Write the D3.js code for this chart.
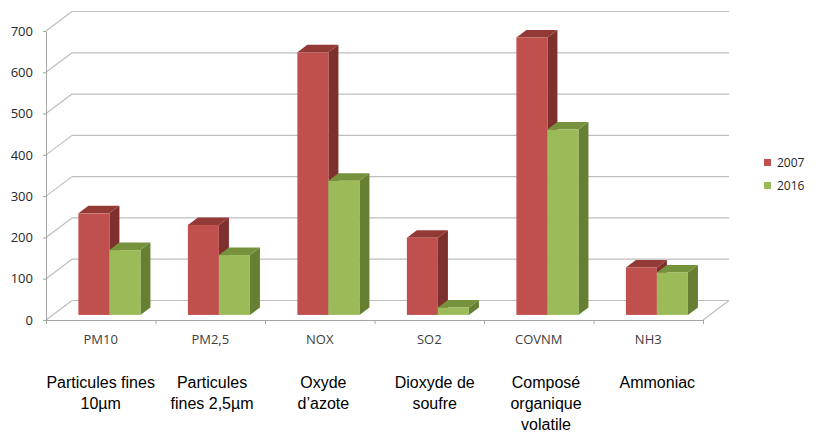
<!DOCTYPE html>
<html>
<head>
<meta charset="utf-8">
<script src="https://cdn.jsdelivr.net/npm/d3@7"></script>
<style>
  html, body { margin: 0; padding: 0; background: #fff; }
  svg { display: block; }
</style>
</head>
<body>
<svg id="chart" width="817" height="432"></svg>
<script>
// Emission data (kt), 2007 vs 2016
const codes = ["PM10", "PM2,5", "NOX", "SO2", "COVNM", "NH3"];
const descriptions = [
  ["Particules fines", "10µm"],
  ["Particules", "fines 2,5µm"],
  ["Oxyde", "d\u2019azote"],
  ["Dioxyde de", "soufre"],
  ["Composé", "organique", "volatile"],
  ["Ammoniac"]
];
const years = ["2007", "2016"];
const values2007 = [246, 218, 636, 187, 672, 115];
const values2016 = [157, 145, 325, 18, 449, 103];
const yTicks = [0, 100, 200, 300, 400, 500, 600, 700];

const series = [values2007, values2016];
const faceColors = [
  { front: "#C0504D", top: "#933A37", side: "#7E302E" },
  { front: "#9BBB59", top: "#76923C", side: "#667F33" }
];

const svg = d3.select("#chart");

// Plot frame: front floor edge, and oblique offset to the back wall
const x0 = 46, x1 = 703;
const depthX = 26, depthY = -19.5;
const barFront = 0.26, barBack = 0.645;

const y = d3.scaleLinear().domain([0, 700]).range([320, 31]);
const xBand = d3.scaleBand().domain(codes).range([x0, x1]);
const xSeries = d3.scaleBand().domain(years)
  .range([0, xBand.bandwidth()]).paddingInner(0).paddingOuter(0.765).align(0.54);
const xText = d3.scaleBand().domain(codes).range([45, 713]);

const proj = (px, py, d) => [px + d * depthX, py + d * depthY];

const gridColor = "#BDBDBD";

// Back wall and left wall gridlines
const grid = svg.append("g");
yTicks.forEach(v => {
  const [bx0, by] = proj(x0, y(v), 1);
  const [bx1] = proj(x1, y(v), 1);
  grid.append("line").attr("x1", bx0).attr("x2", bx1).attr("y1", by).attr("y2", by)
    .attr("stroke", gridColor).attr("stroke-width", 1.2);
  grid.append("line").attr("x1", x0).attr("y1", y(v)).attr("x2", bx0).attr("y2", by)
    .attr("stroke", gridColor).attr("stroke-width", 1.2);
});
// Right edge of the floor
{
  const [bx, by] = proj(x1, y(0), 1);
  grid.append("line").attr("x1", x1).attr("y1", y(0)).attr("x2", bx).attr("y2", by)
    .attr("stroke", gridColor).attr("stroke-width", 1.2);
}

// Y axis
const yAxis = svg.append("g").attr("transform", `translate(${x0},0)`)
  .call(d3.axisLeft(y).tickValues(yTicks).tickSizeInner(3).tickSizeOuter(0).tickPadding(10));
yAxis.select(".domain").attr("stroke", "#A6A6A6");
yAxis.selectAll(".tick line").attr("stroke", "#A6A6A6");
yAxis.selectAll("text").attr("font-family", "'Open Sans', sans-serif")
  .attr("font-size", 13).attr("fill", "#262626");

// X axis: line with ticks between categories
const xBound = d3.scaleLinear().domain([0, codes.length]).range([x0, x1]);
const xAxis = svg.append("g").attr("transform", `translate(0,${y(0)})`)
  .call(d3.axisBottom(xBound).tickValues(d3.range(codes.length + 1))
    .tickFormat("").tickSizeInner(4).tickSizeOuter(0));
xAxis.select(".domain").attr("stroke", "#A6A6A6");
xAxis.selectAll(".tick line").attr("stroke", "#A6A6A6");

// Category codes
svg.append("g").selectAll("text").data(codes).join("text")
  .attr("x", d => xBand(d) + xBand.bandwidth() / 2)
  .attr("y", 344)
  .attr("text-anchor", "middle")
  .attr("font-family", "'Open Sans', sans-serif")
  .attr("font-size", 13)
  .attr("fill", "#404040")
  .text(d => d);

// Descriptive labels under the codes
const desc = svg.append("g").selectAll("text").data(codes).join("text")
  .attr("text-anchor", "middle")
  .attr("font-family", "'Liberation Sans', Arial, sans-serif")
  .attr("font-size", 16)
  .attr("fill", "#000");
desc.each(function (d, i) {
  const t = d3.select(this);
  descriptions[i].forEach((line, k) => {
    t.append("tspan")
      .attr("x", xText(d) + xText.bandwidth() / 2)
      .attr("y", 388 + k * 21)
      .text(line);
  });
});

// 3D columns
const bars = svg.append("g");
codes.forEach((c, i) => {
  years.forEach((yr, s) => {
    const v = series[s][i];
    const left = xBand(c) + xSeries(yr);
    const right = left + xSeries.bandwidth();
    const yt = y(v), yb = y(0);
    const col = faceColors[s];
    const P = (px, py, d) => proj(px, py, d).join(",");
    // right side face
    bars.append("polygon")
      .attr("points", [P(right, yb, barFront), P(right, yb, barBack), P(right, yt, barBack), P(right, yt, barFront)].join(" "))
      .attr("fill", col.side);
    // top face
    bars.append("polygon")
      .attr("points", [P(left, yt, barFront), P(right, yt, barFront), P(right, yt, barBack), P(left, yt, barBack)].join(" "))
      .attr("fill", col.top);
    // front face
    const [fx, fy] = proj(left, yt, barFront);
    const [, fb] = proj(left, yb, barFront);
    bars.append("rect")
      .attr("x", fx).attr("y", fy)
      .attr("width", right - left).attr("height", fb - fy)
      .attr("fill", col.front);
  });
});

// Legend
const legend = svg.append("g").selectAll("g").data(years).join("g")
  .attr("transform", (d, i) => `translate(764,${159 + i * 23})`);
legend.append("rect").attr("width", 7).attr("height", 7)
  .attr("fill", (d, i) => faceColors[i].front);
legend.append("text").attr("x", 13).attr("y", 7.5)
  .attr("font-family", "'Open Sans', sans-serif")
  .attr("font-size", 12)
  .attr("fill", "#262626")
  .text(d => d);
</script>
</body>
</html>
